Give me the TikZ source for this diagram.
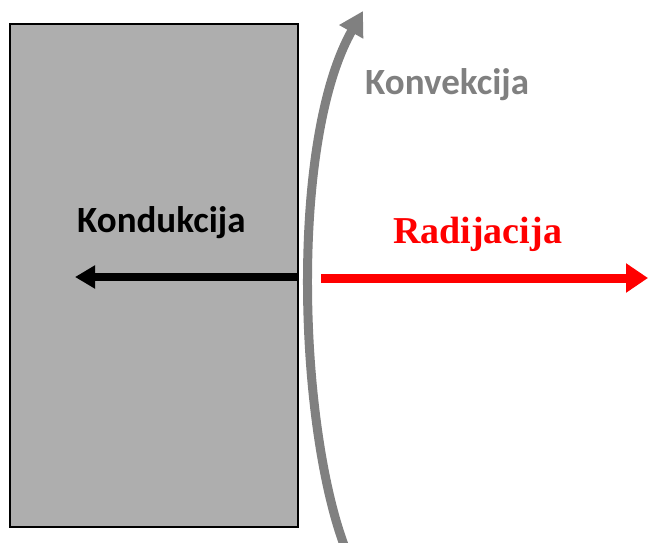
\documentclass[tikz,border=0pt]{standalone}
\usepackage{fontspec}
\setmainfont{Liberation Serif}
\newfontfamily\calib{Carlito}
\usetikzlibrary{arrows.meta}
\definecolor{wallgray}{RGB}{174,174,174}
\definecolor{convgray}{RGB}{128,128,128}
\definecolor{radred}{RGB}{255,0,0}
\tikzset{
  wallbox/.style={draw=black, line width=1.5pt, fill=wallgray, inner sep=0pt, outer sep=0pt},
  lbl/.style={inner sep=0pt, anchor=base west},
}
\begin{document}
\begin{tikzpicture}[x=1pt,y=-1pt]
\useasboundingbox (0,0) rectangle (648,543);
\node[wallbox, minimum width=288pt, minimum height=503pt] (wall) at (154,275.5) {};
% conduction
\coordinate (condS) at (297,277);
\coordinate (condE) at (75,277);
\draw[line width=8.5pt, black, -{Triangle[length=20pt,width=22pt]}] (condS) -- (condE);
% radiation
\coordinate (radS) at (321,278);
\coordinate (radE) at (648,278);
\draw[line width=9pt, radred, -{Triangle[length=22pt,width=28pt]}] (radS) -- (radE);
% convection
\coordinate (convS) at (344,545);
\coordinate (convE) at (363,11);
\draw[line width=9pt, convgray, -{Triangle[length=24pt,width=26pt]}] (convS) .. controls (298,420) and (290,140) .. (convE);
% labels
\node[lbl] (kond) at (77,232) {\calib\bfseries\fontsize{37}{44}\selectfont Kondukcija};
\node[lbl, text=convgray] (konv) at (365,94) {\calib\bfseries\fontsize{37}{44}\selectfont Konvekcija};
\node[lbl, text=radred] (rad) at (393,243) {\bfseries\fontsize{38}{44}\selectfont Radijacija};
\end{tikzpicture}
\end{document}
